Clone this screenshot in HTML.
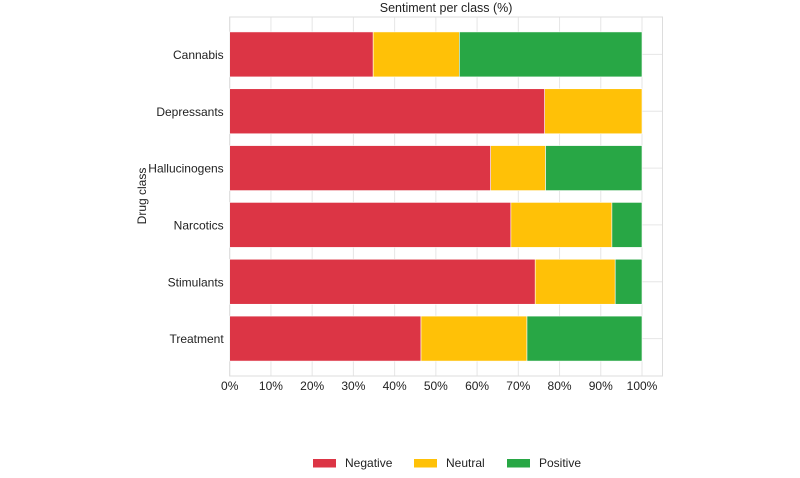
<!DOCTYPE html>
<html><head><meta charset="utf-8"><style>
html,body{margin:0;padding:0;background:#fff;width:800px;height:478px;overflow:hidden}
text{font-family:"Liberation Sans",sans-serif;fill:#222}
</style></head><body>
<svg id="chart" width="800" height="478" xmlns="http://www.w3.org/2000/svg"></svg>
<script>
const categories=["Cannabis","Depressants","Hallucinogens","Narcotics","Stimulants","Treatment"];
const negative=[34.8,76.4,63.3,68.2,74.1,46.4];
const neutral=[20.9,23.6,13.3,24.5,19.4,25.7];
const positive=[44.3,0,23.4,7.3,6.5,27.9];
const xTicks=[0,10,20,30,40,50,60,70,80,90,100];
const seriesNames=["Negative","Neutral","Positive"];
const colors=["#dc3545","#ffc107","#28a745"];
const svg=document.getElementById('chart');
const NS="http://www.w3.org/2000/svg";
const L=229.7,R=662.5,T=17,B=376,X100=642;
const x=v=>L+(X100-L)*v/100;
const pad=9;
const step=(B-T-2*pad)/categories.length;
const yc=i=>T+pad+step*(i+0.5);
function mk(tag,attrs,parent){const e=document.createElementNS(NS,tag);for(const k in attrs)e.setAttribute(k,attrs[k]);(parent||svg).appendChild(e);return e;}
xTicks.forEach(t=>{const l=mk('line',{x1:x(t),x2:x(t),y1:T,y2:B,stroke:'#e6e6e6','stroke-width':1});

});
categories.forEach((c,i)=>{const l=mk('line',{x1:L,x2:R,y1:yc(i),y2:yc(i),stroke:'#e6e6e6','stroke-width':1});

});
const frame=mk('rect',{x:L,y:T,width:R-L,height:B-T,fill:'none',stroke:'#dddddd','stroke-width':1});


const series=[negative,neutral,positive];
const bh=45;
categories.forEach((c,i)=>{let acc=0;series.forEach((s,k)=>{const v=s[i];if(v>0){const r=mk('rect',{x:x(acc),y:yc(i)-bh/2,width:x(acc+v)-x(acc),height:bh,fill:colors[k],stroke:'#fff','stroke-width':0.6});

}acc+=v;});
const t=mk('text',{x:L-6,y:yc(i)+4.5,'text-anchor':'end','font-size':12});t.textContent=c;

});
xTicks.forEach(v=>{const t=mk('text',{x:x(v),y:B+14,'text-anchor':'middle','font-size':12});t.textContent=v+'%';

});
const title=mk('text',{x:(L+R)/2,y:12,'text-anchor':'middle','font-size':12.5});title.textContent='Sentiment per class (%)';


const yt=mk('text',{x:0,y:0,'text-anchor':'middle','font-size':12,transform:'translate(146,196) rotate(-90)'});yt.textContent='Drug class';


const lx=[313,414,507];
seriesNames.forEach((n,k)=>{const g=mk('g',{});


mk('rect',{x:lx[k],y:459,width:23,height:8.5,fill:colors[k]},g);
const t=mk('text',{x:lx[k]+32,y:467,'font-size':12},g);t.textContent=n;});
</script>
</body></html>
